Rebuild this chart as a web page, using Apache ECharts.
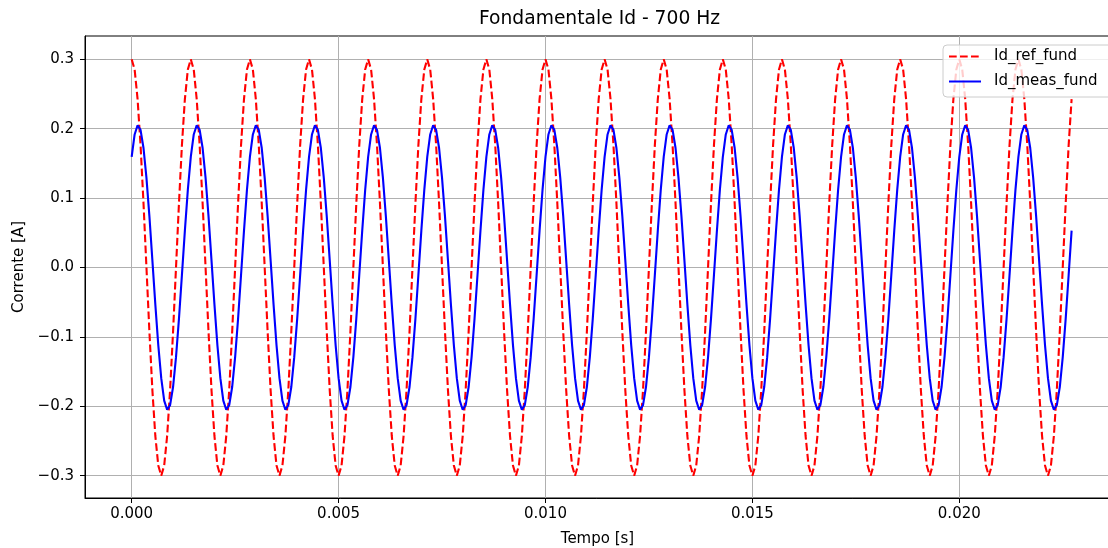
<!DOCTYPE html>
<html>
<head>
<meta charset="utf-8">
<script src="https://cdn.jsdelivr.net/npm/echarts@6/dist/echarts.min.js"></script>
<style>
  html, body { margin: 0; padding: 0; background: #ffffff; }
  #chart { width: 1108px; height: 548px; }
</style>
</head>
<body>
<div id="chart"></div>
<script>
// ---- Data ----
const TITLE = 'Fondamentale Id - 700 Hz';
const X_NAME = 'Tempo [s]';
const Y_NAME = 'Corrente [A]';
const SERIES_NAMES = ['Id_ref_fund', 'Id_meas_fund'];

// sampling step of the recorded signals [s]
const SAMPLE_DT = 1 / 14000;

// Id_ref_fund samples [A]
const idRefFund = [
0.3,0.2853,0.2427,0.1763,0.0927,0,-0.0927,-0.1763,-0.2427,-0.2853,-0.3,-0.2853,-0.2427,-0.1763,-0.0927,0,0.0927,0.1763,0.2427,0.2853,
0.3,0.2853,0.2427,0.1763,0.0927,0,-0.0927,-0.1763,-0.2427,-0.2853,-0.3,-0.2853,-0.2427,-0.1763,-0.0927,0,0.0927,0.1763,0.2427,0.2853,
0.3,0.2853,0.2427,0.1763,0.0927,0,-0.0927,-0.1763,-0.2427,-0.2853,-0.3,-0.2853,-0.2427,-0.1763,-0.0927,0,0.0927,0.1763,0.2427,0.2853,
0.3,0.2853,0.2427,0.1763,0.0927,0,-0.0927,-0.1763,-0.2427,-0.2853,-0.3,-0.2853,-0.2427,-0.1763,-0.0927,0,0.0927,0.1763,0.2427,0.2853,
0.3,0.2853,0.2427,0.1763,0.0927,0,-0.0927,-0.1763,-0.2427,-0.2853,-0.3,-0.2853,-0.2427,-0.1763,-0.0927,0,0.0927,0.1763,0.2427,0.2853,
0.3,0.2853,0.2427,0.1763,0.0927,0,-0.0927,-0.1763,-0.2427,-0.2853,-0.3,-0.2853,-0.2427,-0.1763,-0.0927,0,0.0927,0.1763,0.2427,0.2853,
0.3,0.2853,0.2427,0.1763,0.0927,0,-0.0927,-0.1763,-0.2427,-0.2853,-0.3,-0.2853,-0.2427,-0.1763,-0.0927,0,0.0927,0.1763,0.2427,0.2853,
0.3,0.2853,0.2427,0.1763,0.0927,0,-0.0927,-0.1763,-0.2427,-0.2853,-0.3,-0.2853,-0.2427,-0.1763,-0.0927,0,0.0927,0.1763,0.2427,0.2853,
0.3,0.2853,0.2427,0.1763,0.0927,0,-0.0927,-0.1763,-0.2427,-0.2853,-0.3,-0.2853,-0.2427,-0.1763,-0.0927,0,0.0927,0.1763,0.2427,0.2853,
0.3,0.2853,0.2427,0.1763,0.0927,0,-0.0927,-0.1763,-0.2427,-0.2853,-0.3,-0.2853,-0.2427,-0.1763,-0.0927,0,0.0927,0.1763,0.2427,0.2853,
0.3,0.2853,0.2427,0.1763,0.0927,0,-0.0927,-0.1763,-0.2427,-0.2853,-0.3,-0.2853,-0.2427,-0.1763,-0.0927,0,0.0927,0.1763,0.2427,0.2853,
0.3,0.2853,0.2427,0.1763,0.0927,0,-0.0927,-0.1763,-0.2427,-0.2853,-0.3,-0.2853,-0.2427,-0.1763,-0.0927,0,0.0927,0.1763,0.2427,0.2853,
0.3,0.2853,0.2427,0.1763,0.0927,0,-0.0927,-0.1763,-0.2427,-0.2853,-0.3,-0.2853,-0.2427,-0.1763,-0.0927,0,0.0927,0.1763,0.2427,0.2853,
0.3,0.2853,0.2427,0.1763,0.0927,0,-0.0927,-0.1763,-0.2427,-0.2853,-0.3,-0.2853,-0.2427,-0.1763,-0.0927,0,0.0927,0.1763,0.2427,0.2853,
0.3,0.2853,0.2427,0.1763,0.0927,0,-0.0927,-0.1763,-0.2427,-0.2853,-0.3,-0.2853,-0.2427,-0.1763,-0.0927,0,0.0927,0.1763,0.2427,0.2853,
0.3,0.2853,0.2427,0.1763,0.0927,0,-0.0927,-0.1763,-0.2427,-0.2853,-0.3,-0.2853,-0.2427,-0.1763,-0.0927,0,0.0927,0.1763,0.2427
];

// Id_meas_fund samples [A]
const idMeasFund = [
0.1595,0.1917,0.2050,0.1983,0.1722,0.1292,0.0736,0.0107,-0.0531,-0.1118,-0.1595,-0.1917,-0.2050,-0.1983,-0.1722,-0.1292,-0.0736,-0.0107,0.0531,0.1118,
0.1595,0.1917,0.2050,0.1983,0.1722,0.1292,0.0736,0.0107,-0.0531,-0.1118,-0.1595,-0.1917,-0.2050,-0.1983,-0.1722,-0.1292,-0.0736,-0.0107,0.0531,0.1118,
0.1595,0.1917,0.2050,0.1983,0.1722,0.1292,0.0736,0.0107,-0.0531,-0.1118,-0.1595,-0.1917,-0.2050,-0.1983,-0.1722,-0.1292,-0.0736,-0.0107,0.0531,0.1118,
0.1595,0.1917,0.2050,0.1983,0.1722,0.1292,0.0736,0.0107,-0.0531,-0.1118,-0.1595,-0.1917,-0.2050,-0.1983,-0.1722,-0.1292,-0.0736,-0.0107,0.0531,0.1118,
0.1595,0.1917,0.2050,0.1983,0.1722,0.1292,0.0736,0.0107,-0.0531,-0.1118,-0.1595,-0.1917,-0.2050,-0.1983,-0.1722,-0.1292,-0.0736,-0.0107,0.0531,0.1118,
0.1595,0.1917,0.2050,0.1983,0.1722,0.1292,0.0736,0.0107,-0.0531,-0.1118,-0.1595,-0.1917,-0.2050,-0.1983,-0.1722,-0.1292,-0.0736,-0.0107,0.0531,0.1118,
0.1595,0.1917,0.2050,0.1983,0.1722,0.1292,0.0736,0.0107,-0.0531,-0.1118,-0.1595,-0.1917,-0.2050,-0.1983,-0.1722,-0.1292,-0.0736,-0.0107,0.0531,0.1118,
0.1595,0.1917,0.2050,0.1983,0.1722,0.1292,0.0736,0.0107,-0.0531,-0.1118,-0.1595,-0.1917,-0.2050,-0.1983,-0.1722,-0.1292,-0.0736,-0.0107,0.0531,0.1118,
0.1595,0.1917,0.2050,0.1983,0.1722,0.1292,0.0736,0.0107,-0.0531,-0.1118,-0.1595,-0.1917,-0.2050,-0.1983,-0.1722,-0.1292,-0.0736,-0.0107,0.0531,0.1118,
0.1595,0.1917,0.2050,0.1983,0.1722,0.1292,0.0736,0.0107,-0.0531,-0.1118,-0.1595,-0.1917,-0.2050,-0.1983,-0.1722,-0.1292,-0.0736,-0.0107,0.0531,0.1118,
0.1595,0.1917,0.2050,0.1983,0.1722,0.1292,0.0736,0.0107,-0.0531,-0.1118,-0.1595,-0.1917,-0.2050,-0.1983,-0.1722,-0.1292,-0.0736,-0.0107,0.0531,0.1118,
0.1595,0.1917,0.2050,0.1983,0.1722,0.1292,0.0736,0.0107,-0.0531,-0.1118,-0.1595,-0.1917,-0.2050,-0.1983,-0.1722,-0.1292,-0.0736,-0.0107,0.0531,0.1118,
0.1595,0.1917,0.2050,0.1983,0.1722,0.1292,0.0736,0.0107,-0.0531,-0.1118,-0.1595,-0.1917,-0.2050,-0.1983,-0.1722,-0.1292,-0.0736,-0.0107,0.0531,0.1118,
0.1595,0.1917,0.2050,0.1983,0.1722,0.1292,0.0736,0.0107,-0.0531,-0.1118,-0.1595,-0.1917,-0.2050,-0.1983,-0.1722,-0.1292,-0.0736,-0.0107,0.0531,0.1118,
0.1595,0.1917,0.2050,0.1983,0.1722,0.1292,0.0736,0.0107,-0.0531,-0.1118,-0.1595,-0.1917,-0.2050,-0.1983,-0.1722,-0.1292,-0.0736,-0.0107,0.0531,0.1118,
0.1595,0.1917,0.2050,0.1983,0.1722,0.1292,0.0736,0.0107,-0.0531,-0.1118,-0.1595,-0.1917,-0.2050,-0.1983,-0.1722,-0.1292,-0.0736,-0.0107,0.0531
];

// Tick values shown on the axes
const X_TICKS = [0, 0.005, 0.010, 0.015, 0.020];
const Y_TICKS = [-0.3, -0.2, -0.1, 0.0, 0.1, 0.2, 0.3];

// Axis extents (matplotlib-like margins)
const X_MIN = -0.001128, X_MAX = 0.023642;
const Y_MIN = -0.3321, Y_MAX = 0.3336;

// ---- Build chart ----
const refPairs = idRefFund.map((v, i) => [i * SAMPLE_DT, v]);
const measPairs = idMeasFund.map((v, i) => [i * SAMPLE_DT, v]);

const FONT = 'DejaVu Sans';
const chart = echarts.init(document.getElementById('chart'), null, { renderer: 'canvas' });

const fmtX = v => v.toFixed(3);
const fmtY = v => (v < -1e-12 ? '\u2212' : '') + Math.abs(v).toFixed(1);

chart.setOption({
  animation: false,
  backgroundColor: '#ffffff',
  textStyle: { fontFamily: FONT },
  title: {
    text: TITLE,
    left: 479,
    top: 10,
    padding: 0,
    textStyle: { fontFamily: FONT, fontSize: 18.7, fontWeight: 'normal', color: '#000000' }
  },
  grid: {
    left: 85, right: -2, top: 36, bottom: 50,
    show: true, borderColor: '#000000', borderWidth: 1, backgroundColor: 'transparent',
    containLabel: false,
    outerBoundsMode: 'none'
  },
  legend: {
    orient: 'vertical',
    left: 943, top: 45,
    padding: [4, 200, 8, 5],
    itemWidth: 32, itemHeight: 15, itemGap: 10,
    backgroundColor: 'rgba(255,255,255,0.8)',
    borderColor: '#cccccc', borderWidth: 1, borderRadius: 4,
    itemStyle: { opacity: 0 },
    textStyle: { fontFamily: FONT, fontSize: 15, color: '#000000', padding: [0, 0, 0, 8] },
    data: SERIES_NAMES
  },
  xAxis: {
    type: 'value',
    min: X_MIN, max: X_MAX,
    name: X_NAME, nameLocation: 'middle', nameGap: 34,
    nameTextStyle: { fontFamily: FONT, fontSize: 15, color: '#000000' },
    axisLine: { show: true, onZero: false, lineStyle: { color: '#000000', width: 1 } },
    axisTick: { show: true, inside: false, length: 5, customValues: X_TICKS, lineStyle: { color: '#000000', width: 1 } },
    axisLabel: {
      show: true, margin: 9, customValues: X_TICKS,
      fontFamily: FONT, fontSize: 15, color: '#000000',
      formatter: fmtX
    },
    splitLine: { show: true, lineStyle: { color: '#b0b0b0', width: 1 } }
  },
  yAxis: {
    type: 'value',
    min: Y_MIN, max: Y_MAX,
    name: Y_NAME, nameLocation: 'middle', nameGap: 54, nameRotate: 90,
    nameTextStyle: { fontFamily: FONT, fontSize: 15, color: '#000000' },
    axisLine: { show: true, onZero: false, lineStyle: { color: '#000000', width: 1 } },
    axisTick: { show: true, inside: false, length: 5, customValues: Y_TICKS, lineStyle: { color: '#000000', width: 1 } },
    axisLabel: {
      show: true, margin: 11, customValues: Y_TICKS,
      fontFamily: FONT, fontSize: 15, color: '#000000',
      formatter: fmtY
    },
    splitLine: { show: true, lineStyle: { color: '#b0b0b0', width: 1 } }
  },
  series: [
    {
      name: SERIES_NAMES[0], type: 'line', data: refPairs,
      showSymbol: false, symbol: 'none', smooth: false,
      lineStyle: { color: '#ff0000', width: 2.1, type: [7.7, 3.3] },
      itemStyle: { color: '#ff0000' },
      z: 3
    },
    {
      name: SERIES_NAMES[1], type: 'line', data: measPairs,
      showSymbol: false, symbol: 'none', smooth: false,
      lineStyle: { color: '#0000ff', width: 2.1, type: 'solid' },
      itemStyle: { color: '#0000ff' },
      z: 4
    }
  ]
});
</script>
</body>
</html>
